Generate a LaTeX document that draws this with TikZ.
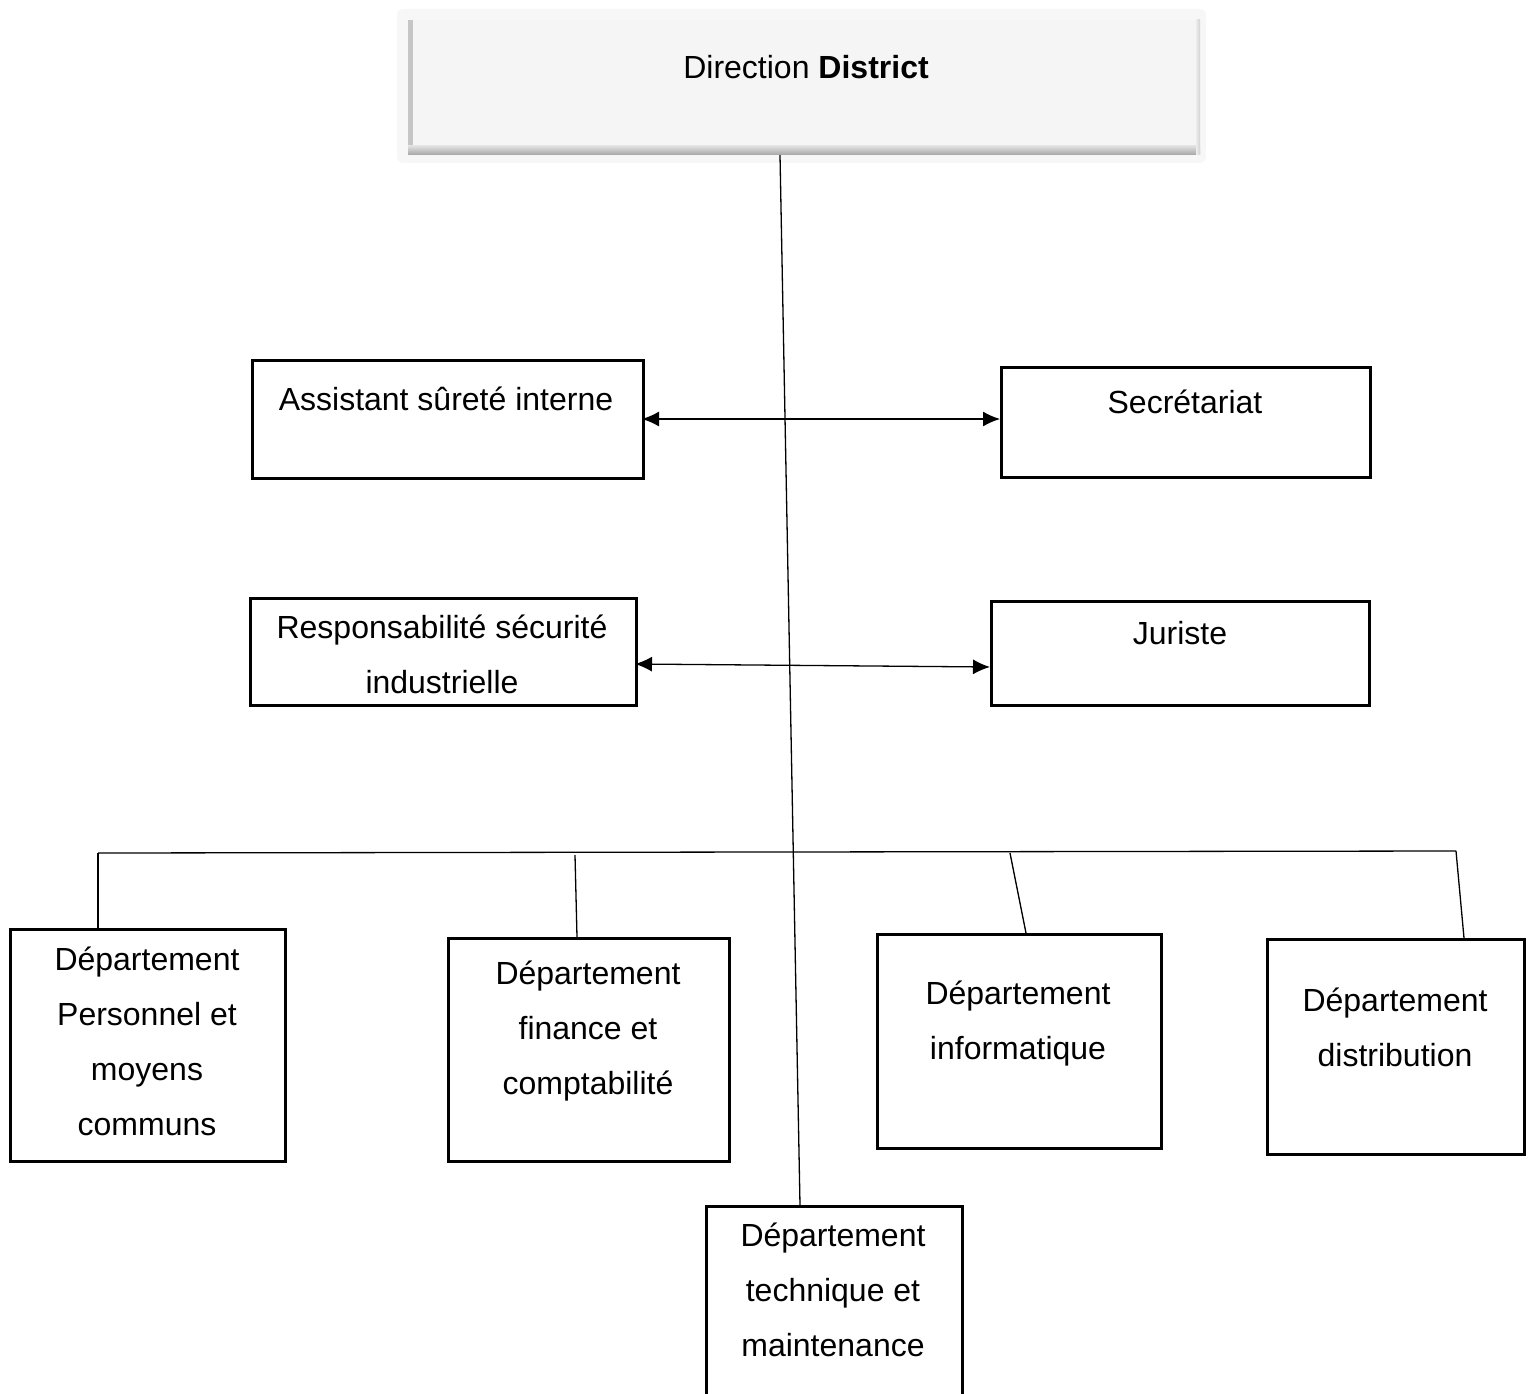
\documentclass[tikz,border=0pt]{standalone}
\usepackage{fontspec}
\setmainfont{Liberation Sans}
\usetikzlibrary{arrows.meta}
\tikzset{
  box/.style={draw=black, line width=2.6pt, anchor=north west, inner sep=0pt, fill=white},
  txt/.style={font=\fontsize{32}{55}\selectfont, align=center, inner sep=0pt},
  link/.style={draw=black, line width=1.3pt},
  dbl/.style={link, {Latex[length=17pt,width=15pt]}-{Latex[length=17pt,width=15pt]}}
}
\begin{document}
\begin{tikzpicture}[x=1pt,y=-1pt]
\useasboundingbox (0,0) rectangle (1529,1394);
% Direction box with shadowed look
\fill[gray!6, rounded corners=6pt] (397,9) rectangle (1206,163);
\node[anchor=north west, inner sep=0pt, minimum width=792pt, minimum height=135pt, fill=gray!8] (dir) at (408,20) {};
\fill[gray!45] (408,20) rectangle (413,155);
\shade[top color=gray!25, bottom color=gray!70] (408,146) rectangle (1200,155);
\shade[left color=gray!15, right color=gray!35] (1196,20) rectangle (1200,155);
\node[txt] (dirt) at (806,67) {Direction \textbf{District}};
% upper boxes
\node[box, minimum width=391pt, minimum height=118pt] (asst) at (251,359) {};
\node[txt] (asstt) at (446,399) {Assistant sûreté interne};
\node[box, minimum width=369pt, minimum height=110pt] (sec) at (1000,366) {};
\node[txt] (sect) at (1185,402) {Secrétariat};
\node[box, minimum width=386pt, minimum height=107pt] (resp) at (249,597) {};
\node[txt] (respt) at (442,654) {Responsabilité sécurité\\industrielle};
\node[box, minimum width=378pt, minimum height=104pt] (jur) at (990,600) {};
\node[txt] (jurt) at (1180,633) {Juriste};
% departments
\node[box, minimum width=275pt, minimum height=232pt] (d1) at (9,928) {};
\node[txt] (d1t) at (147,1041) {Département\\Personnel et\\moyens\\communs};
\node[box, minimum width=281pt, minimum height=223pt] (d2) at (447,937) {};
\node[txt] (d2t) at (588,1031) {Département\\finance et\\comptabilité};
\node[box, minimum width=284pt, minimum height=214pt] (d3) at (876,933) {};
\node[txt] (d3t) at (1018,1024) {Département\\informatique};
\node[box, minimum width=257pt, minimum height=215pt] (d4) at (1266,938) {};
\node[txt] (d4t) at (1395,1027) {Département\\distribution};
\node[box, minimum width=256pt, minimum height=215pt] (d5) at (705,1205) {};
\node[txt] (d5t) at (833,1290) {Département\\technique et\\maintenance};
% connector coordinates
\coordinate (vtop) at (780,155);
\coordinate (vbot) at (800,1205);
\coordinate (busL) at (98,853);
\coordinate (busR) at (1456,851);
\coordinate (b2) at (575,855);
\coordinate (b3) at (1010,853);
\coordinate (a1L) at (642,419);
\coordinate (a1R) at (1000,419);
\coordinate (a2L) at (635,664);
\coordinate (a2R) at (990,667);
% connectors
\draw[link] (vtop) -- (vbot);
\draw[link] (busL) -- (busR);
\draw[link] (busL) -- (d1.north west -| busL);
\draw[link] (b2) -- (577,937);
\draw[link] (b3) -- (1026,933);
\draw[link] (busR) -- (1464,938);
\draw[dbl] (a1L) -- (a1R);
\draw[dbl] (a2L) -- (a2R);
\end{tikzpicture}
\end{document}
